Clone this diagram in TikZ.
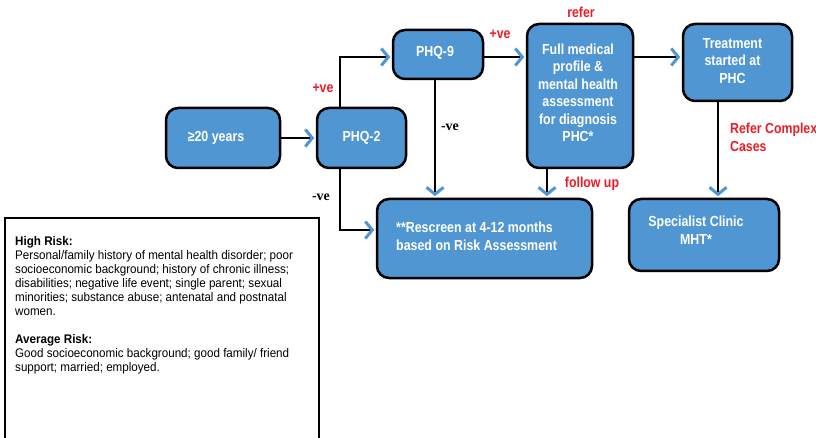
\documentclass[tikz,border=0pt]{standalone}
\usepackage{fontspec}
\setmainfont{Liberation Sans}
\newfontfamily\cond[FakeStretch=0.85]{Liberation Sans}
\newfontfamily\condn[FakeStretch=0.93]{Liberation Sans}
\newfontfamily\serifb{Liberation Serif}
\usetikzlibrary{arrows.meta}
\definecolor{boxblue}{RGB}{80,150,210}
\definecolor{arrblue}{RGB}{80,150,210}
\definecolor{lblred}{RGB}{237,28,36}
\begin{document}
\begin{tikzpicture}[x=1pt,y=-1pt,
 box/.style={draw=black, line width=2.5pt, fill=boxblue, rounded corners=12pt, inner sep=0pt},
 btxt/.style={text=white, font=\cond\bfseries\fontsize{14.6}{17.5}\selectfont, align=center, inner sep=0pt},
 conn/.style={draw=black, line width=1.6pt, shorten >=1.5pt, -{Straight Barb[length=7pt,width=17pt,line width=3pt,color=arrblue]}},
 redlbl/.style={text=lblred, font=\cond\bfseries\fontsize{14.5}{18}\selectfont, inner sep=0pt},
 neg/.style={font=\serifb\bfseries\fontsize{14}{16}\selectfont, inner sep=0pt}
]
\useasboundingbox (0,0) rectangle (816,438);
% boxes
\node[box, minimum width=114pt, minimum height=60pt] (age) at (223,138) {};
\node[box, minimum width=89pt, minimum height=60pt] (phq2) at (361.5,138) {};
\node[box, minimum width=90pt, minimum height=49pt] (phq9) at (438,54.5) {};
\node[box, minimum width=106pt, minimum height=144pt] (full) at (580,96) {};
\node[box, minimum width=109pt, minimum height=77pt] (treat) at (737.5,62.5) {};
\node[box, minimum width=150pt, minimum height=72pt] (spec) at (704,235) {};
\node[box, minimum width=215pt, minimum height=79pt] (resc) at (484.5,238.5) {};
% texts
\node[btxt] (tage) at (216,138) {≥20 years};
\node[btxt] (tphq2) at (361.5,138) {PHQ-2};
\node[btxt] (tphq9) at (435,53) {PHQ-9};
\node[btxt] (tfull) at (578,93) {Full medical\\profile \&\\mental health\\assessment\\for diagnosis\\PHC*};
\node[btxt] (ttreat) at (732.5,61) {Treatment\\started at\\PHC};
\node[btxt] (tspec) at (696,230) {Specialist Clinic\\MHT*};
\node[btxt, align=left, anchor=west] (tresc) at (396,236.5) {**Rescreen at 4-12 months\\based on Risk Assessment};
% connectors
\coordinate (p2t) at ([xshift=-21.5pt]phq2.north);
\coordinate (p2b) at ([xshift=-21.5pt]phq2.south);
\coordinate (p9e) at ([yshift=-2.5pt]phq9.east);
\coordinate (p9b) at ([xshift=-3pt]phq9.south);
\coordinate (fb) at ([xshift=-33pt]full.south);
\coordinate (fe) at (full.east |- p9e);
\coordinate (tb) at ([xshift=-19.5pt]treat.south);
\coordinate (rw) at ([yshift=8.5pt]resc.west);
\draw[conn] (age.east) -- (phq2.west);
\draw[conn] (p2t) |- (phq9.west |- p9e);
\draw[conn] (p2b) |- (rw);
\draw[conn] (p9b) -- (p9b |- resc.north);
\draw[conn] (p9e) -- (p9e -| full.west);
\draw[conn] (fe) -- (fe -| treat.west);
\draw[conn] (fb) -- (fb |- resc.north);
\draw[conn] (tb) -- (tb |- spec.north);
% labels
\node[redlbl] (l1) at (323,88) {+ve};
\node[redlbl] (l2) at (500,34) {+ve};
\node[redlbl] (l3) at (581,12) {refer};
\node[redlbl] (l4) at (592,184) {follow up};
\node[redlbl, align=left, anchor=west] (l5) at (730,137) {Refer Complex\\Cases};
\node[neg] (n1) at (321,197) {-ve};
\node[neg] (n2) at (450,127) {-ve};
% risk box
\draw[line width=2.5pt, fill=white] (5,218) rectangle (319,450);
\node[anchor=north west, inner sep=0pt, align=left, font=\condn\fontsize{12.5}{14}\selectfont] (risk) at (15,236)
{\textbf{High Risk:}\\
Personal/family history of mental health disorder; poor\\
socioeconomic background; history of chronic illness;\\
disabilities; negative life event; single parent; sexual\\
minorities; substance abuse; antenatal and postnatal\\
women.\\[14pt]
\textbf{Average Risk:}\\
Good socioeconomic background; good family/ friend\\
support; married; employed.};
\end{tikzpicture}
\end{document}
